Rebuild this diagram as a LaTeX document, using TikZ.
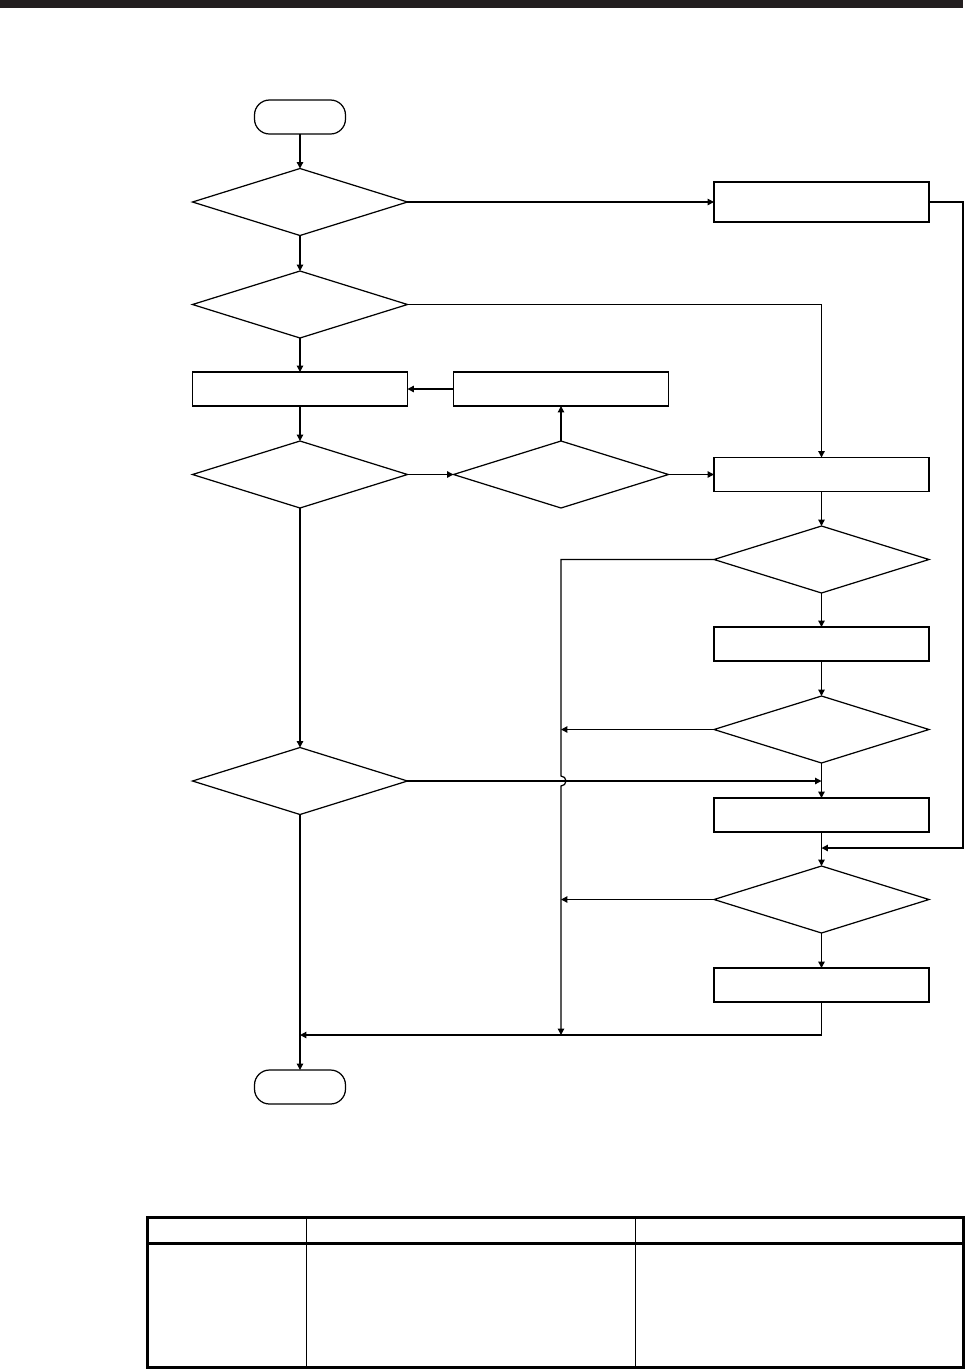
\documentclass[tikz,border=0pt]{standalone}
\usetikzlibrary{arrows.meta, shapes.geometric}
\definecolor{barcol}{HTML}{231F20}

\begin{document}
\begin{tikzpicture}[
  x=0.02cm, y=-0.02cm,
  term/.style={draw, rectangle, rounded corners=0.3cm, minimum width=1.82cm, minimum height=0.68cm, inner sep=0pt, outer sep=0pt, line width=0.7pt},
  proc/.style={draw, rectangle, minimum width=4.3cm, minimum height=0.68cm, inner sep=0pt, outer sep=0pt, line width=0.7pt},
  dec/.style={draw, diamond, minimum width=4.3cm, minimum height=1.34cm, inner sep=0pt, outer sep=0pt, line width=0.7pt},
  e/.style={-{Triangle[length=3.6pt, width=3.6pt]}, line width=0.7pt},
  ln/.style={line width=0.7pt},
  frame/.style={line width=1.7pt}]
  \useasboundingbox (0,0) rectangle (966,1370);
  \fill[barcol] (0,0) rectangle (963,8);
  \node[term] (start) at (300,117) {};
  \node[dec] (chk1) at (300,202) {};
  \node[proc, minimum height=0.8cm] (boxG) at (821.5,202) {};
  \node[dec] (chk2) at (300,304.5) {};
  \node[proc] (boxA) at (300,389) {};
  \node[proc] (boxB) at (561,389) {};
  \node[dec] (chk3) at (300,474.5) {};
  \node[dec] (chk4) at (561,474.5) {};
  \node[proc] (boxC) at (821.5,474.5) {};
  \node[dec] (chk5) at (821.5,559.5) {};
  \node[proc] (boxD) at (821.5,644) {};
  \node[dec] (chk6) at (821.5,729.5) {};
  \node[dec] (chk8) at (300,781) {};
  \node[proc] (boxE) at (821.5,815) {};
  \node[dec] (chk7) at (821.5,899.5) {};
  \node[proc] (boxF) at (821.5,985) {};
  \node[term] (stop) at (300,1087) {};
  \coordinate (in8) at (821.5,781);
  \coordinate (in7) at (821.5,848);
  \coordinate (lft6) at (561,729.5);
  \coordinate (lft7) at (561,899.5);
  \coordinate (hop) at (561,776);
  \coordinate (mid) at (561,1035);
  \coordinate (merge) at (300,1035);
  \draw[e] (start) -- (chk1);
  \draw[e] (chk1) -- (chk2);
  \draw[e] (chk1) -- (boxG);
  \draw[e] (boxG.east) -- ++(34,0) |- (in7);
  \draw[e] (chk2.east) -| (boxC.north);
  \draw[e] (chk2) -- (boxA);
  \draw[e] (boxB) -- (boxA);
  \draw[e] (boxA) -- (chk3);
  \draw[e] (chk3) -- (chk4);
  \draw[e] (chk4) -- (boxB);
  \draw[e] (chk4) -- (boxC);
  \draw[e] (boxC) -- (chk5);
  \draw[e] (chk5) -- (boxD);
  \draw[e] (boxD) -- (chk6);
  \draw[e] (chk6) -- (boxE);
  \draw[e] (boxE) -- (chk7);
  \draw[e] (chk7) -- (boxF);
  \draw[e] (chk6.west) -- (lft6);
  \draw[e] (chk7.west) -- (lft7);
  \draw[e] (chk5.west) -| (hop) arc[start angle=90, end angle=-90, radius=0.1cm] -- (mid);
  \draw[e] (chk3) -- (chk8);
  \draw[e] (chk8.east) -- (in8);
  \draw[e] (chk8) -- (stop);
  \draw[e] (boxF.south) |- (merge);
  \draw[frame] (147.5,1217.5) rectangle (963,1367.5);
  \draw[frame] (147.5,1243) -- (963,1243);
  \draw[ln] (306.5,1217.5) -- (306.5,1367.5);
  \draw[ln] (635.5,1217.5) -- (635.5,1367.5);
\end{tikzpicture}
\end{document}
